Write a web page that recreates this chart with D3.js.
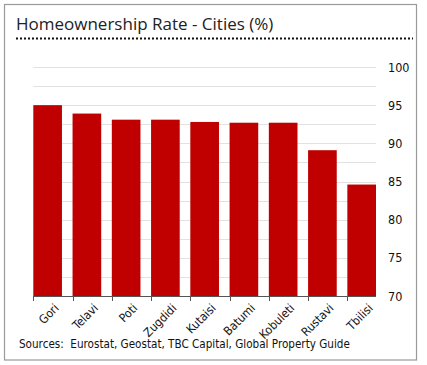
<!DOCTYPE html>
<html>
<head>
<meta charset="utf-8">
<script src="https://cdn.jsdelivr.net/npm/d3@7"></script>
<style>
  body { margin: 0; background: #fff; }
  text { font-family: "Open Sans", "DejaVu Sans", sans-serif; }
</style>
</head>
<body>
<script>
var cities = ["Gori", "Telavi", "Poti", "Zugdidi", "Kutaisi", "Batumi", "Kobuleti", "Rustavi", "Tbilisi"];
var rates = [95.0, 93.9, 93.1, 93.1, 92.8, 92.7, 92.7, 89.1, 84.6];
var yTicks = [70, 75, 80, 85, 90, 95, 100];
var gridTicks = [72.5, 75, 77.5, 80, 82.5, 85, 87.5, 90, 92.5, 95, 97.5, 100];

var width = 427, height = 365;
var plotLeft = 33.3, plotRight = 376, plotTop = 67, plotBottom = 296;
var tickFont = "'DejaVu Sans Condensed', 'DejaVu Sans', sans-serif";

var svg = d3.select("body").append("svg")
    .attr("width", width).attr("height", height);

// frame
svg.append("rect")
    .attr("x", 4.5).attr("y", 4.5)
    .attr("width", 412).attr("height", 355.5)
    .attr("fill", "#fff").attr("stroke", "#9a9a9a").attr("stroke-width", 1.2);

svg.append("text")
    .attr("x", 16).attr("y", 30)
    .attr("font-size", 17)
    .attr("fill", "#222")
    .text("Homeownership Rate - Cities (%)");

svg.append("line")
    .attr("x1", 16).attr("x2", 413)
    .attr("y1", 38.5).attr("y2", 38.5)
    .attr("stroke", "#111").attr("stroke-width", 2)
    .attr("stroke-dasharray", "2,2");

var x = d3.scaleBand()
    .domain(cities)
    .range([plotLeft, plotRight])
    .paddingInner(0.27)
    .paddingOuter(0)
    .align(0);

var y = d3.scaleLinear().domain([70, 100]).range([plotBottom, plotTop]);

// gridlines
svg.append("g").selectAll("line")
    .data(gridTicks)
    .join("line")
    .attr("x1", plotLeft).attr("x2", plotRight)
    .attr("y1", function(d) { return Math.round(y(d)) + 0.5; })
    .attr("y2", function(d) { return Math.round(y(d)) + 0.5; })
    .attr("stroke", "#e2e2e2").attr("stroke-width", 1);

// bars
svg.append("g").selectAll("rect")
    .data(cities)
    .join("rect")
    .attr("x", function(d) { return x(d); })
    .attr("width", x.bandwidth())
    .attr("y", function(d, i) { return y(rates[i]); })
    .attr("height", function(d, i) { return y(70) - y(rates[i]); })
    .attr("fill", "#c00000");

// y axis on the right
var yAxis = svg.append("g")
    .attr("transform", "translate(" + (plotRight + 12) + ",0)")
    .call(d3.axisRight(y).tickValues(yTicks).tickSize(0).tickPadding(0));
yAxis.select(".domain").remove();
yAxis.selectAll("text")
    .attr("font-size", 12.5)
    .attr("fill", "#111")
    .style("font-family", tickFont);

// x axis line + ticks
svg.append("line")
    .attr("x1", plotLeft).attr("x2", plotRight)
    .attr("y1", plotBottom + 0.5).attr("y2", plotBottom + 0.5)
    .attr("stroke", "#555").attr("stroke-width", 1);

svg.append("g").selectAll("line")
    .data(cities)
    .join("line")
    .attr("x1", function(d) { return Math.round(x(d)) + 0.5; })
    .attr("x2", function(d) { return Math.round(x(d)) + 0.5; })
    .attr("y1", plotBottom).attr("y2", plotBottom + 5)
    .attr("stroke", "#555");

svg.append("g").selectAll("text")
    .data(cities)
    .join("text")
    .attr("transform", function(d) {
      return "translate(" + (x(d) + x.bandwidth() / 2 + 6) + "," + (plotBottom + 7) + ") rotate(-45)";
    })
    .attr("text-anchor", "end")
    .attr("dy", "0.7em")
    .attr("font-size", 12)
    .attr("fill", "#111")
    .style("font-family", tickFont)
    .text(function(d) { return d; });

svg.append("text")
    .attr("x", 19).attr("y", 348)
    .attr("font-size", 11.6)
    .attr("fill", "#111")
    .style("font-family", tickFont)
    .style("white-space", "pre")
    .text("Sources:  Eurostat, Geostat, TBC Capital, Global Property Guide");
</script>
</body>
</html>
